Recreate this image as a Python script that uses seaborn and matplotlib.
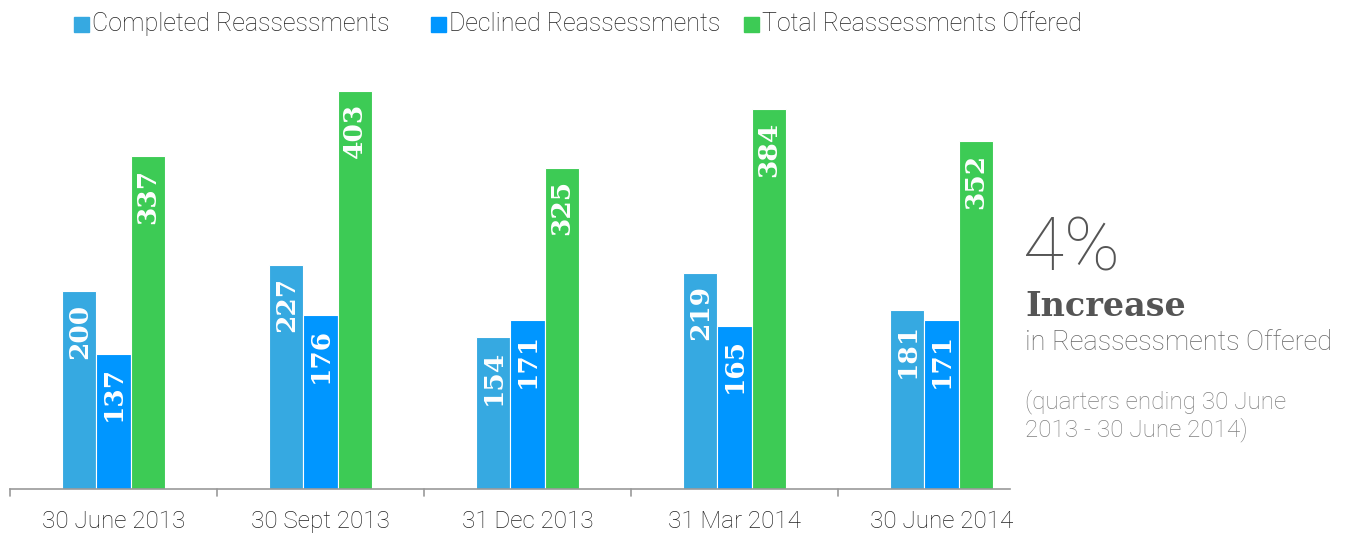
import matplotlib
matplotlib.use("Agg")
import matplotlib.pyplot as plt
import seaborn as sns
import pandas as pd
import numpy as np
from matplotlib.patches import Rectangle

categories = ["30 June 2013", "30 Sept 2013", "31 Dec 2013", "31 Mar 2014", "30 June 2014"]
series_names = ["Completed Reassessments", "Declined Reassessments", "Total Reassessments Offered"]
completed = [200, 227, 154, 219, 181]
declined = [137, 176, 171, 165, 171]
total = [337, 403, 325, 384, 352]
colors = ["#36A9E1", "#0096FF", "#3DCB55"]

df = pd.DataFrame({
    "quarter": categories * 3,
    "series": [series_names[0]] * 5 + [series_names[1]] * 5 + [series_names[2]] * 5,
    "value": completed + declined + total,
})

sns.set_theme(style="white")
plt.rcParams["font.family"] = ["Roboto", "DejaVu Sans"]

W, H = 1352, 534
fig = plt.figure(figsize=(W / 100, H / 100), dpi=100)
ax = fig.add_axes([10 / W, (H - 489) / H, 1035 / W, 429 / H])

sns.barplot(data=df, x="quarter", y="value", hue="series", order=categories,
            hue_order=series_names, palette=colors, width=0.495, gap=0,
            saturation=1, ax=ax, legend=False, linewidth=0.8, edgecolor="white")

ax.set_xlim(-0.5, 4.5)
ax.set_ylim(0, 434)
ax.set_xlabel("")
ax.set_ylabel("")
ax.set_yticks([])
for s in ["top", "right", "left"]:
    ax.spines[s].set_visible(False)
ax.spines["bottom"].set_color("#999999")
ax.spines["bottom"].set_linewidth(1.2)
ax.spines["bottom"].set_bounds(-0.5, 4.33)
ax.set_xticks(np.arange(len(categories)))
ax.set_xticklabels(categories, fontsize=17.5, color="#222222", fontweight="light")
ax.tick_params(axis="x", length=0, pad=15)
for b in np.arange(-0.5, 4.0, 1.0):
    ax.plot([b, b], [0, -7], color="#999999", lw=1.2, clip_on=False,
            transform=ax.transData)

# value labels
for container in ax.containers:
    for rect in container:
        h = rect.get_height()
        ax.annotate(f"{int(round(h))}", xy=(rect.get_x() + rect.get_width() / 2, h),
                    xytext=(0, -9), textcoords="offset points",
                    ha="center", va="top", rotation=90, color="white",
                    fontsize=19, fontweight="bold", family="DejaVu Serif")

# legend
leg_x = [74, 431, 744]
for name, col, lx in zip(series_names, colors, leg_x):
    fig.patches.append(Rectangle((lx / W, 1 - 32 / H), 15 / W, 15 / H,
                                 transform=fig.transFigure, color=col))
    fig.text((lx + 18) / W, 1 - 24 / H, name, fontsize=18, color="#222222",
             va="center", ha="left", fontweight="light")

# side annotation
fig.text(1023 / W, 1 - 250 / H, "4%", fontsize=54, color="#555555",
         va="center", ha="left", fontweight="light")
fig.text(1025 / W, 1 - 307 / H, "Increase", fontsize=24, color="#555555",
         va="center", ha="left", fontweight="bold", family="DejaVu Serif")
fig.text(1025 / W, 1 - 342 / H, "in Reassessments Offered", fontsize=19.5,
         color="#666666", va="center", ha="left", fontweight="light")
fig.text(1025 / W, 1 - 402 / H, "(quarters ending 30 June", fontsize=17.5,
         color="#808080", va="center", ha="left", fontweight="light")
fig.text(1025 / W, 1 - 430 / H, "2013 - 30 June 2014)", fontsize=17.5,
         color="#808080", va="center", ha="left", fontweight="light")

fig.savefig("out.png", dpi=100)
